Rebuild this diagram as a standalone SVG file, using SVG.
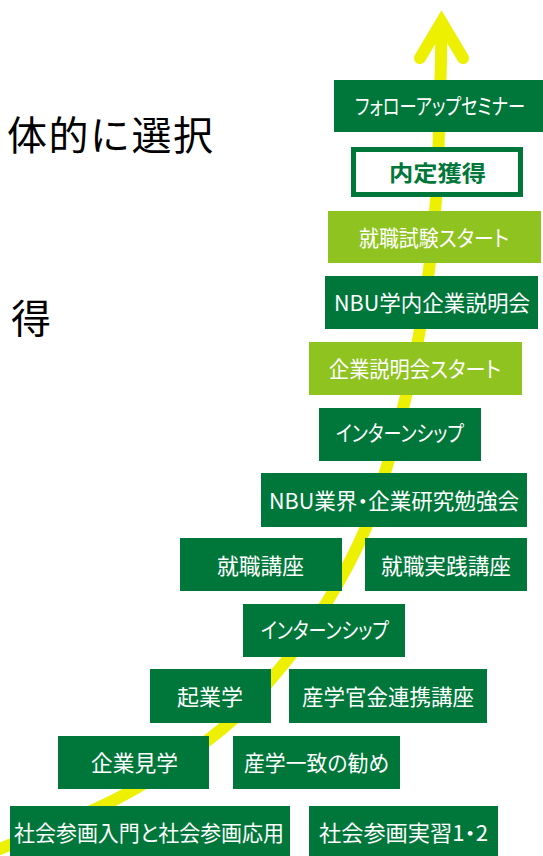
<svg xmlns="http://www.w3.org/2000/svg" width="543" height="856" viewBox="0 0 543 856">
<style>
.dark{fill:#00773A}
.light{fill:#8FC31F}
.lbl{font-family:"Noto Sans CJK JP","Noto Sans",sans-serif;font-size:22px;fill:#FFFFFF;text-anchor:middle;font-feature-settings:"palt" 1}
.big{font-family:"Noto Sans CJK JP","Noto Sans",sans-serif;font-size:40px;fill:#000000}
.yl{fill:none;stroke:#EDF000;stroke-width:12}
</style>
<g id="side-text">
<text class="big" x="7" y="150" textLength="206" lengthAdjust="spacing">体的に選択</text>
<text class="big" x="11" y="333">得</text>
</g>
<g id="connectors">
<path class="yl" stroke-linecap="butt" d="M441.5,22 L441,60 C440.7,71.7 439.8,106.7 439,130 C438.2,153.3 437.7,176.7 436,200 C434.3,223.3 431.8,247.5 429,270 C426.2,292.5 423,313.3 419,335 C415,356.7 410.3,378.2 405,400 C399.7,421.8 393.8,444 387,466 C380.2,488 373.5,510.2 364,532 C354.5,553.8 342.8,575.7 330,597 C317.2,618.3 305,638 287,660 C269,682 249.8,706.2 222,729 C194.2,751.8 158.7,776.3 120,797 C81.3,817.7 11.7,843.7 -10,853"/>
<path class="yl" stroke-linecap="round" stroke-linejoin="miter" stroke-miterlimit="10" d="M420,58 L441.5,22 L463,58"/>
</g>
<g id="n-followup"><rect class="dark" x="334" y="80" width="209" height="52"/><text class="lbl" x="440" y="114" textLength="170" lengthAdjust="spacingAndGlyphs">フォローアップセミナー</text></g>
<g id="n-naitei"><rect x="353.5" y="149.5" width="167" height="45" fill="#FFFFFF" stroke="#00773A" stroke-width="5"/><text class="lbl" x="437.5" y="180.5" style="fill:#00773A;font-weight:700" textLength="97" lengthAdjust="spacingAndGlyphs">内定獲得</text></g>
<g id="n-shiken"><rect class="light" x="328" y="211" width="213" height="52"/><text class="lbl" x="434" y="245.5" textLength="150" lengthAdjust="spacingAndGlyphs">就職試験スタート</text></g>
<g id="n-gakunai"><rect class="dark" x="325" y="276" width="213" height="53"/><text class="lbl" x="432" y="311" textLength="196" lengthAdjust="spacingAndGlyphs">NBU学内企業説明会</text></g>
<g id="n-setsumei"><rect class="light" x="309" y="342" width="213" height="53"/><text class="lbl" x="415" y="377" textLength="172" lengthAdjust="spacingAndGlyphs">企業説明会スタート</text></g>
<g id="n-intern1"><rect class="dark" x="319" y="408" width="162" height="53"/><text class="lbl" x="400" y="441" textLength="128" lengthAdjust="spacingAndGlyphs">インターンシップ</text></g>
<g id="n-benkyo"><rect class="dark" x="261" y="473" width="266" height="54"/><text class="lbl" x="394" y="509" textLength="250" lengthAdjust="spacingAndGlyphs">NBU業界・企業研究勉強会</text></g>
<g id="n-koza"><rect class="dark" x="180" y="538" width="162" height="53"/><text class="lbl" x="260.5" y="574" textLength="87" lengthAdjust="spacingAndGlyphs">就職講座</text></g>
<g id="n-jissen"><rect class="dark" x="365" y="538" width="162" height="53"/><text class="lbl" x="446" y="574" textLength="130" lengthAdjust="spacingAndGlyphs">就職実践講座</text></g>
<g id="n-intern2"><rect class="dark" x="243" y="604" width="162" height="53"/><text class="lbl" x="325" y="638" textLength="128" lengthAdjust="spacingAndGlyphs">インターンシップ</text></g>
<g id="n-kigyo"><rect class="dark" x="150" y="669" width="121" height="54"/><text class="lbl" x="210" y="705" textLength="66" lengthAdjust="spacingAndGlyphs">起業学</text></g>
<g id="n-sangaku"><rect class="dark" x="289" y="669" width="198" height="54"/><text class="lbl" x="388" y="705" textLength="172" lengthAdjust="spacingAndGlyphs">産学官金連携講座</text></g>
<g id="n-kengaku"><rect class="dark" x="58" y="736" width="151" height="53"/><text class="lbl" x="134.5" y="771" textLength="87" lengthAdjust="spacingAndGlyphs">企業見学</text></g>
<g id="n-itchi"><rect class="dark" x="233" y="736" width="167" height="53"/><text class="lbl" x="316.5" y="771" textLength="145" lengthAdjust="spacingAndGlyphs">産学一致の勧め</text></g>
<g id="n-nyumon"><rect class="dark" x="10" y="806" width="280" height="52"/><text class="lbl" x="149" y="841" textLength="270" lengthAdjust="spacingAndGlyphs">社会参画入門と社会参画応用</text></g>
<g id="n-jisshu"><rect class="dark" x="309" y="806" width="189" height="52"/><text class="lbl" x="403.5" y="841" textLength="169" lengthAdjust="spacingAndGlyphs">社会参画実習1・2</text></g>
</svg>
